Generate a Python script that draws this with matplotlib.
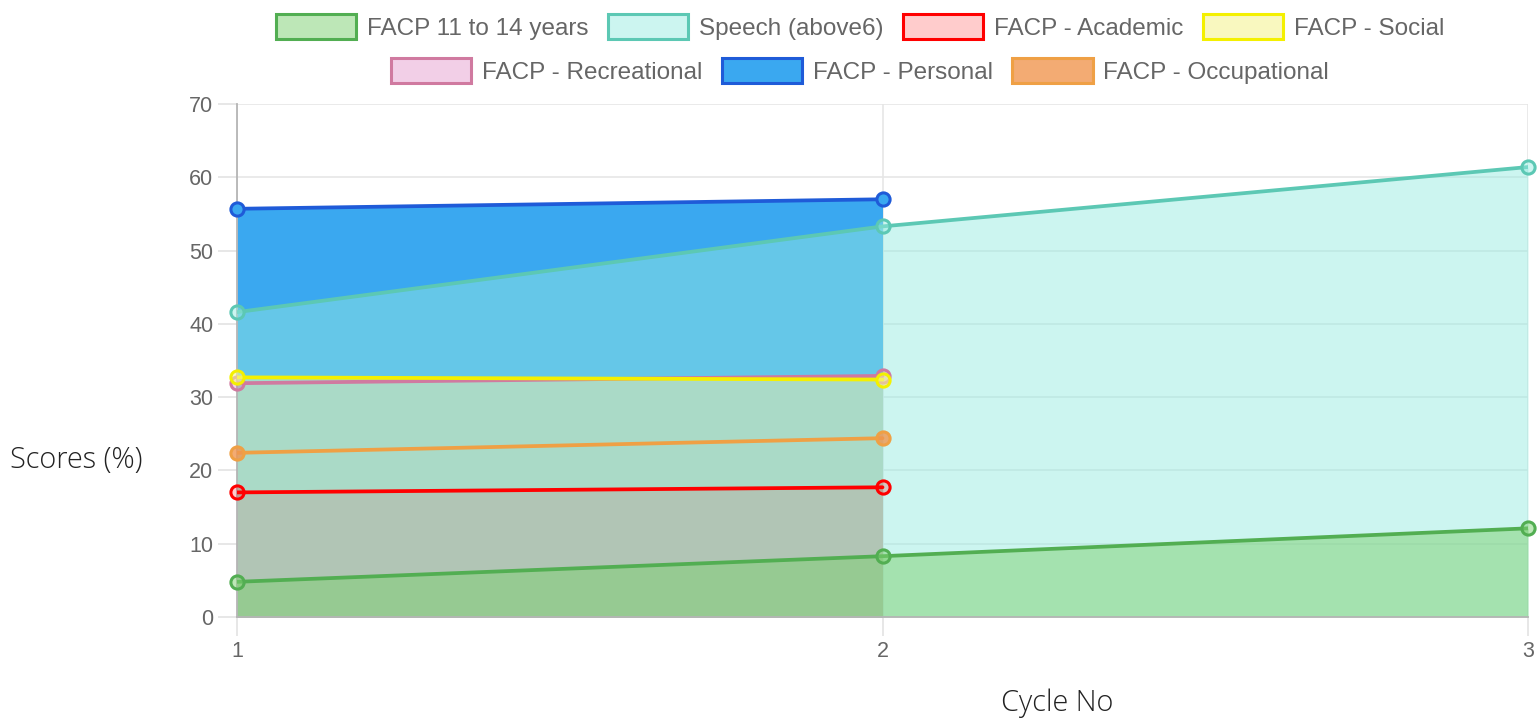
import matplotlib
matplotlib.use("Agg")
import matplotlib.pyplot as plt
from matplotlib.patches import Patch

# ---- data ----
cycles = [1, 2, 3]
series_names = ["FACP 11 to 14 years", "Speech (above6)", "FACP - Academic",
                "FACP - Social", "FACP - Recreational", "FACP - Personal",
                "FACP - Occupational"]
facp_11_14 = [4.8, 8.3, 12.1]
speech = [41.6, 53.3, 61.4]
academic = [17.0, 17.7]
social = [32.7, 32.4]
recreational = [31.9, 32.9]
personal = [55.7, 57.0]
occupational = [22.4, 24.4]
y_ticks = [0, 10, 20, 30, 40, 50, 60, 70]

values = [facp_11_14, speech, academic, social, recreational, personal, occupational]

# ---- styles ----
fill_colors = [
    (125/255, 208/255, 112/255, 0.5),
    (150/255, 235/255, 225/255, 0.48),
    (1.0, 0.0, 0.0, 0.2),
    (246/255, 244/255, 149/255, 0.6),
    (212/255, 98/255, 178/255, 0.3),
    (58/255, 168/255, 240/255, 1.0),
    (240/255, 150/255, 80/255, 0.8),
]
edge_colors = ["#52AE52", "#5CC8B4", "#FF0000", "#F4F000", "#D07AA0", "#1F5BD8", "#EFA045"]

plt.rcParams['font.family'] = ['Liberation Sans', 'DejaVu Sans']

fig = plt.figure(figsize=(15.4, 7.19), dpi=100)
ax = fig.add_axes([237/1540, 1 - 617/719, (1528 - 237)/1540, (617 - 104)/719])

n = len(values)
# all fills first (last dataset at the bottom), then lines and points
for i, vals in enumerate(values):
    xs = cycles[:len(vals)]
    ax.fill_between(xs, 0, vals, color=fill_colors[i], linewidth=0, zorder=2 + (n - 1 - i))
for i, vals in enumerate(values):
    xs = cycles[:len(vals)]
    z = 20 + (n - 1 - i) * 2
    ax.plot(xs, vals, color=edge_colors[i], lw=2.7, zorder=z, solid_capstyle='round')
    ax.plot(xs, vals, linestyle='none', marker='o', markersize=9.5,
            markerfacecolor=fill_colors[i], markeredgecolor=edge_colors[i],
            markeredgewidth=2.2, zorder=z + 1, clip_on=False)

ax.set_xlim(1, 3)
ax.set_ylim(0, 70)
ax.set_xticks(cycles)
ax.set_yticks(y_ticks)
ax.grid(True, color='#E6E6E6', lw=1.2, zorder=0)
ax.set_axisbelow(True)
for s in ['top', 'right']:
    ax.spines[s].set_visible(False)
for s in ['left', 'bottom']:
    ax.spines[s].set_color('#B5B5B5')
    ax.spines[s].set_linewidth(1.3)
    ax.spines[s].set_zorder(15)
ax.tick_params(axis='both', length=14, width=1.2, color='#E3E3E3',
               labelsize=15.5, labelcolor='#666666', pad=3)

fig.text(10/1540, 1 - 460/719, "Scores (%)", ha='left', va='center',
         fontsize=20.8, fontweight='light', family=['Open Sans', 'DejaVu Sans'], color='#222222')
fig.text(1057/1540, 1 - 703/719, "Cycle No", ha='center', va='center',
         fontsize=20.8, fontweight='light', family=['Open Sans', 'DejaVu Sans'], color='#222222')

handles = [Patch(facecolor=fill_colors[i], edgecolor=edge_colors[i], linewidth=2.2)
           for i in range(n)]
leg_kw = dict(frameon=False, fontsize=17.5, handlelength=3.3, handleheight=1.2,
              handletextpad=0.45, columnspacing=0.8, borderpad=0, labelcolor='#666666')
leg1 = fig.legend(handles[:4], series_names[:4], ncol=4, loc='center',
                  bbox_to_anchor=(860/1540, 1 - 27/719), **leg_kw)
leg2 = fig.legend(handles[4:], series_names[4:], ncol=3, loc='center',
                  bbox_to_anchor=(860/1540, 1 - 71/719), **leg_kw)

fig.savefig("out.png", dpi=100, facecolor='white')
